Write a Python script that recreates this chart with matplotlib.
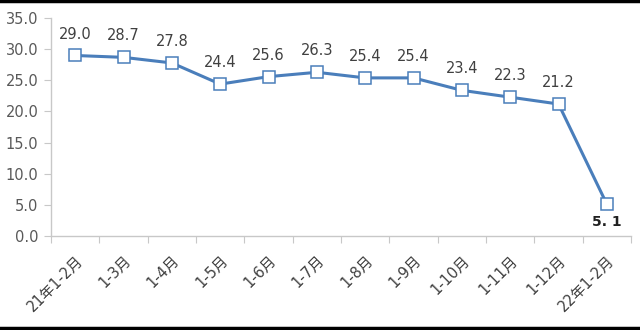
#!/usr/bin/env python3

import matplotlib

matplotlib.use("Agg")

import matplotlib.pyplot as plt
from matplotlib.lines import Line2D


CATEGORIES = ["21年1-2月", "1-3月", "1-4月", "1-5月", "1-6月", "1-7月",
              "1-8月", "1-9月", "1-10月", "1-11月", "1-12月", "22年1-2月"]
VALUES = [29.0, 28.7, 27.8, 24.4, 25.6, 26.3, 25.4, 25.4, 23.4, 22.3, 21.2, 5.1]
Y_TICKS = [0.0, 5.0, 10.0, 15.0, 20.0, 25.0, 30.0, 35.0]

LINE_COLOR = "#4a7ebb"
AXIS_COLOR = "#c8c8c8"
TEXT_COLOR = "#404040"

plt.rcParams["font.family"] = ["DejaVu Sans", "Noto Sans CJK SC"]


def main():
    fig = plt.figure(figsize=(6.4, 3.3), dpi=100)
    ax = fig.add_axes([0.0797, 0.285, 0.9063, 0.66])

    x = list(range(len(VALUES)))
    ax.plot(x, VALUES, color=LINE_COLOR, linewidth=2.2, marker="s", markersize=8,
            markerfacecolor="white", markeredgecolor=LINE_COLOR, markeredgewidth=1.1,
            zorder=3)

    for i, v in enumerate(VALUES):
        if i == len(VALUES) - 1:
            ax.annotate("5. 1", (i, v), xytext=(0, -8), textcoords="offset points",
                        ha="center", va="top", fontsize=10, color="#202020",
                        fontweight="bold")
        else:
            ax.annotate("%.1f" % v, (i, v), xytext=(0, 10), textcoords="offset points",
                        ha="center", va="bottom", fontsize=10.5, color=TEXT_COLOR)

    ax.set_xlim(-0.5, len(VALUES) - 0.5)
    ax.set_ylim(0, 35)
    ax.set_yticks(Y_TICKS)
    ax.set_yticklabels(["%.1f" % t for t in Y_TICKS])

    # ticks sit on category boundaries, labels at centres
    ax.set_xticks([i - 0.5 for i in range(len(VALUES) + 1)])
    ax.set_xticklabels([])
    ax.set_xticks(x, minor=True)
    ax.set_xticklabels(CATEGORIES, minor=True, rotation=45, ha="right",
                       rotation_mode="anchor")
    ax.tick_params(axis="x", which="minor", length=0, pad=12, labelsize=10.5,
                   labelcolor=TEXT_COLOR)
    ax.tick_params(axis="x", which="major", length=5, color=AXIS_COLOR)
    ax.tick_params(axis="y", length=5, color=AXIS_COLOR, labelsize=10.5,
                   labelcolor="#595959", pad=4)

    for side in ["top", "right"]:
        ax.spines[side].set_visible(False)
    for side in ["left", "bottom"]:
        ax.spines[side].set_color(AXIS_COLOR)
        ax.spines[side].set_linewidth(1.0)

    fig.add_artist(Line2D([0, 1], [0.997, 0.997], color="black", linewidth=2.5,
                          transform=fig.transFigure))
    fig.add_artist(Line2D([0, 1], [0.005, 0.005], color="black", linewidth=2.5,
                          transform=fig.transFigure))

    fig.savefig("out.png", dpi=100)
    plt.close(fig)


if __name__ == "__main__":
    main()
